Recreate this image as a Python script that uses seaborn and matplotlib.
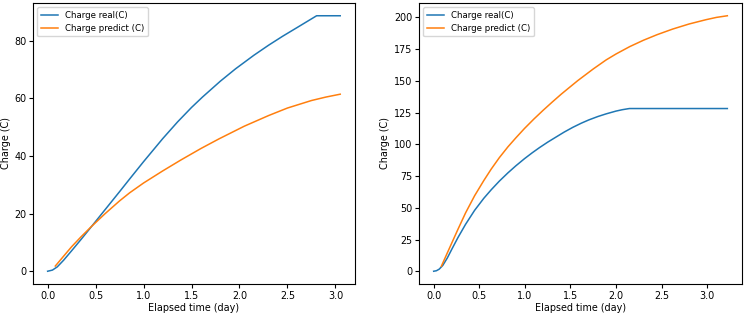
import seaborn as sb
import matplotlib.pyplot as plt

# left panel
t_real_1 = [0.0, 0.05, 0.1, 0.166, 0.25, 0.35, 0.45, 0.6, 0.75, 0.855, 1.0, 1.1, 1.2, 1.355, 1.5,
            1.614, 1.8, 1.959, 2.15, 2.304, 2.45, 2.6, 2.804, 3.05]
q_real_1 = [0.0, 0.4, 1.5, 3.8, 7.1, 11.1, 15.2, 21.4, 27.6, 32.0, 38.0, 42.0, 46.0, 51.8, 56.8,
            60.4, 65.9, 70.2, 74.9, 78.4, 81.5, 84.5, 88.6, 88.6]
t_pred_1 = [0.08, 0.166, 0.25, 0.35, 0.45, 0.6, 0.75, 0.855, 1.0, 1.2, 1.39, 1.6, 1.786, 2.05,
            2.304, 2.5, 2.75, 2.9, 3.05]
q_pred_1 = [1.8, 5.2, 8.5, 12.0, 15.3, 20.0, 24.4, 27.2, 30.6, 34.8, 38.6, 42.6, 45.9, 50.3,
            54.0, 56.6, 59.2, 60.4, 61.4]

# right panel
t_real_2 = [0.0, 0.03, 0.06, 0.1, 0.15, 0.2, 0.266, 0.35, 0.449, 0.55, 0.631, 0.72, 0.814, 0.9,
            0.996, 1.08, 1.16, 1.25, 1.325, 1.43, 1.526, 1.62, 1.7, 1.8, 1.891, 2.0, 2.07, 2.146, 3.22]
q_real_2 = [0.0, 0.4, 1.6, 4.6, 10.5, 17.5, 26.5, 37.0, 48.0, 57.5, 64.2, 71.0, 77.5, 83.0,
            88.7, 93.3, 97.4, 101.7, 105.0, 109.6, 113.4, 116.7, 119.2, 121.9, 124.0, 126.2, 127.3,
            128.2, 128.2]
t_pred_2 = [0.084, 0.15, 0.2, 0.266, 0.35, 0.449, 0.55, 0.631, 0.72, 0.814, 0.9, 0.996, 1.1, 1.2,
            1.3, 1.4, 1.5, 1.58, 1.75, 1.891, 2.0, 2.15, 2.3, 2.45, 2.62, 2.8, 2.986, 3.1, 3.22]
q_pred_2 = [3.9, 14.5, 22.5, 33.0, 46.0, 59.5, 71.5, 80.5, 89.5, 98.0, 105.0, 112.5, 120.0, 126.8,
            133.3, 139.6, 145.5, 150.2, 159.4, 166.5, 171.2, 177.0, 182.0, 186.4, 190.8, 194.8,
            198.2, 200.0, 201.3]

plt.rcParams["font.size"] = 6.9

fig = plt.figure(figsize=(7.45, 3.14), dpi=100)
ax1 = fig.add_axes([0.0443, 0.0955, 0.432, 0.895])
ax2 = fig.add_axes([0.5624, 0.0955, 0.4336, 0.895])

panels = [
    (ax1, t_real_1, q_real_1, t_pred_1, q_pred_1),
    (ax2, t_real_2, q_real_2, t_pred_2, q_pred_2),
]
for ax, tr, qr, tp, qp in panels:
    sb.lineplot(x=tr, y=qr, ax=ax, color="#1f77b4", linewidth=1.1, label="Charge real(C)")
    sb.lineplot(x=tp, y=qp, ax=ax, color="#ff7f0e", linewidth=1.1, label="Charge predict (C)")
    ax.set_xlabel("Elapsed time (day)", labelpad=1.5)
    ax.set_ylabel("Charge (C)", labelpad=2.5)
    ax.tick_params(length=2.8, pad=2)
    ax.legend(loc="upper left", fontsize=6.2)

ax2.set_yticks([0, 25, 50, 75, 100, 125, 150, 175, 200])

fig.savefig("out.png", dpi=100)
